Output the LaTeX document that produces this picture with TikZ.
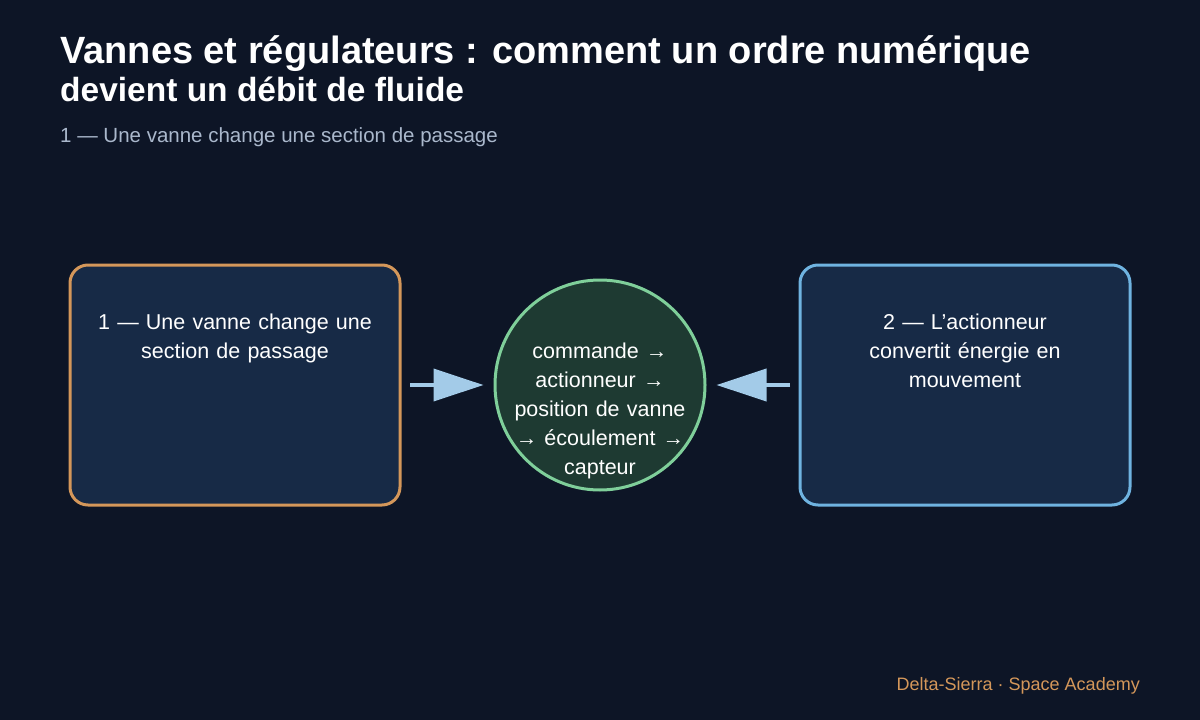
\documentclass[tikz,border=0pt]{standalone}
\usepackage{fontspec}
\setmainfont{Liberation Sans}
\usetikzlibrary{arrows.meta}
\definecolor{bg}{HTML}{0D1526}
\definecolor{boxf}{HTML}{172A46}
\definecolor{orng}{HTML}{D4975A}
\definecolor{blu}{HTML}{6FB3E0}
\definecolor{cirf}{HTML}{1E3A32}
\definecolor{grn}{HTML}{7FCF9A}
\definecolor{arr}{HTML}{A3CBE8}
\definecolor{sub}{HTML}{AAB8CC}
\begin{document}
\begin{tikzpicture}[x=1pt,y=-1pt,
  box/.style={draw,line width=3pt,rounded corners=18pt,fill=boxf,minimum width=330pt,minimum height=240pt},
  btxt/.style={text=white,font=\fontsize{21.5}{29}\selectfont,align=center,text width=300pt,inner sep=0pt},
  conn/.style={arr,line width=4pt,shorten >=10pt,-{Triangle[length=50pt,width=32pt]}}]
\useasboundingbox[fill=bg] (0,0) rectangle (1200,720);
\node[anchor=base west,text=white,font=\bfseries\fontsize{38}{40}\selectfont,inner sep=0pt] (t1) at (60,63) {Vannes et régulateurs : comment un ordre numérique};
\node[anchor=base west,text=white,font=\bfseries\fontsize{33.5}{40}\selectfont,inner sep=0pt] (t2) at (60,101) {devient un débit de fluide};
\node[anchor=base west,text=sub,font=\fontsize{20.5}{24}\selectfont,inner sep=0pt] (st) at (60,142) {1 — Une vanne change une section de passage};
\node[box,draw=orng] (b1) at (235,385) {};
\node[box,draw=blu] (b2) at (965,385) {};
\node[btxt,anchor=north] at (235,314) {1 — Une vanne change une\\section de passage};
\node[btxt,anchor=north,text width=220pt] at (965,314) {2 — L’actionneur\\convertit énergie en\\mouvement};
\node[circle,draw=grn,line width=3pt,fill=cirf,minimum size=210pt,inner sep=0pt] (c) at (600,385) {};
\node[btxt,anchor=north,text width=200pt] at (600,343) {commande →\\actionneur →\\position de vanne\\→ écoulement →\\capteur};
\coordinate (a1) at (410,385);
\coordinate (a2) at (790,385);
\draw[conn] (a1) -- (c.west);
\draw[conn] (a2) -- (c.east);
\node[anchor=base east,text=orng,font=\fontsize{18}{20}\selectfont,inner sep=0pt] (ft) at (1140,690) {Delta-Sierra · Space Academy};
\end{tikzpicture}
\end{document}
